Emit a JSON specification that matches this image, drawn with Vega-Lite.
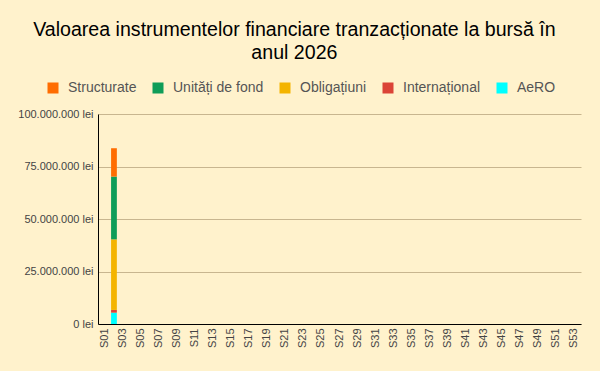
{
  "$schema": "https://vega.github.io/schema/vega-lite/v6.json",
  "width": 483,
  "height": 210,
  "autosize": {"type": "none"},
  "padding": {"left": 98, "top": 114, "right": 19, "bottom": 47},
  "background": "#fff2cc",
  "title": {
    "text": ["Valoarea instrumentelor financiare tranzacționate la bursă în", "anul 2026"],
    "font": "Liberation Sans",
    "fontSize": 19.6,
    "fontWeight": "normal",
    "color": "#000000",
    "anchor": "middle",
    "frame": "bounds",
    "lineHeight": 23,
    "offset": 17,
    "dx": -5
  },
  "config": {
    "locale": {"number": {"decimal": ",", "thousands": ".", "grouping": [3], "currency": ["", " lei"]}},
    "view": {"stroke": null},
    "font": "Liberation Sans"
  },
  "data": {
    "values": [
      {"saptamana": "S02", "categorie": "AeRO", "valoare": 5400000, "rang": 1},
      {"saptamana": "S02", "categorie": "Internațional", "valoare": 1300000, "rang": 2},
      {"saptamana": "S02", "categorie": "Obligațiuni", "valoare": 33600000, "rang": 3},
      {"saptamana": "S02", "categorie": "Unități de fond", "valoare": 29900000, "rang": 4},
      {"saptamana": "S02", "categorie": "Structurate", "valoare": 13500000, "rang": 5}
    ]
  },
  "mark": {"type": "bar"},
  "encoding": {
    "x": {
      "field": "saptamana",
      "type": "nominal",
      "scale": {
        "domain": ["S01","S02","S03","S04","S05","S06","S07","S08","S09","S10","S11","S12","S13","S14","S15","S16","S17","S18","S19","S20","S21","S22","S23","S24","S25","S26","S27","S28","S29","S30","S31","S32","S33","S34","S35","S36","S37","S38","S39","S40","S41","S42","S43","S44","S45","S46","S47","S48","S49","S50","S51","S52","S53"],
        "paddingInner": 0.36,
        "paddingOuter": 0.45
      },
      "axis": {
        "title": null,
        "values": ["S01","S03","S05","S07","S09","S11","S13","S15","S17","S19","S21","S23","S25","S27","S29","S31","S33","S35","S37","S39","S41","S43","S45","S47","S49","S51","S53"],
        "labelAngle": 270,
        "labelFont": "Liberation Sans",
        "labelFontSize": 11,
        "labelColor": "#444444",
        "labelPadding": 4,
        "ticks": false,
        "domainColor": "#000000",
        "domainWidth": 1,
        "grid": false
      }
    },
    "y": {
      "field": "valoare",
      "type": "quantitative",
      "stack": "zero",
      "scale": {"domain": [0, 100000000], "nice": false},
      "axis": {
        "title": null,
        "values": [0, 25000000, 50000000, 75000000, 100000000],
        "format": ",d",
        "labelExpr": "datum.label + ' lei'",
        "labelFont": "Liberation Sans",
        "labelFontSize": 11,
        "labelColor": "#444444",
        "labelPadding": 5,
        "ticks": false,
        "domainColor": "#000000",
        "gridColor": "#c8b68f",
        "gridWidth": 1
      }
    },
    "color": {
      "field": "categorie",
      "type": "nominal",
      "scale": {
        "domain": ["Structurate", "Unități de fond", "Obligațiuni", "Internațional", "AeRO"],
        "range": ["#ff6d01", "#0f9d58", "#f4b400", "#db4437", "#00ffff"]
      },
      "legend": {
        "title": null,
        "orient": "none",
        "direction": "horizontal",
        "legendX": -52,
        "legendY": -33,
        "symbolType": "square",
        "symbolSize": 121,
        "symbolStrokeWidth": 0,
        "symbolOpacity": 1,
        "labelFont": "Liberation Sans",
        "labelFontSize": 14,
        "labelColor": "#555555",
        "labelOffset": 8,
        "columnPadding": 14
      }
    },
    "order": {"field": "rang", "type": "quantitative"}
  }
}
